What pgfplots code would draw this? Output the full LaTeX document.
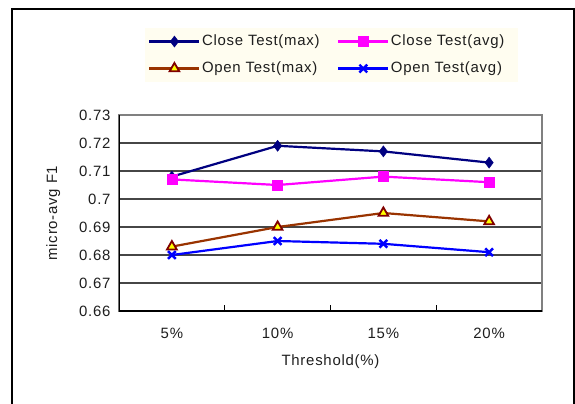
\documentclass[border=0pt]{standalone}
\usepackage{fontspec}
\setmainfont{Liberation Sans}[LetterSpace=5]
\usepackage{pgfplots}
\pgfplotsset{compat=1.18}
\definecolor{cnavy}{RGB}{0,0,128}
\definecolor{cmag}{RGB}{255,0,255}
\definecolor{cbrown}{RGB}{153,51,0}
\definecolor{cdred}{RGB}{128,0,0}
\definecolor{cyel}{RGB}{255,255,0}
\definecolor{cblue}{RGB}{0,0,255}
\definecolor{cream}{RGB}{255,253,240}
\definecolor{cgray}{RGB}{128,128,128}
\definecolor{cgrid}{RGB}{70,70,70}
\definecolor{ctext}{RGB}{30,30,30}
\begin{document}
\begin{tikzpicture}
\useasboundingbox (-119bp,-93bp) rectangle (456bp,311bp);
\fill[cream] (26bp,229bp) rectangle (399bp,283bp);
\draw[line width=2bp] (-107bp,-94bp) -- (-107bp,302bp) -- (455bp,302bp) -- (455bp,-94bp);
\begin{axis}[
  scale only axis,
  width=423bp, height=196bp,
  xmin=-0.5, xmax=3.5,
  ymin=0.66, ymax=0.73,
  xtick={0,1,2,3},
  xticklabels={5\%,10\%,15\%,20\%},
  ytick={0.66,0.67,0.68,0.69,0.70,0.71,0.72,0.73},
  yticklabels={0.66,0.67,0.68,0.69,0.7,0.71,0.72,0.73},
  major tick length=0pt,
  extra x ticks={0.5,1.5,2.5},
  extra x tick labels={},
  extra x tick style={major tick length=6bp, tick style={black, line width=1.2bp}, xtick pos=lower, grid=none},
  xtick pos=lower, ytick pos=left,
  ymajorgrids,
  grid style={cgrid, line width=1.2bp},
  axis line style={cgray, line width=2bp},
  tick label style={font=\fontsize{15}{17}\selectfont, text=ctext},
  label style={font=\fontsize{15}{17}\selectfont, text=ctext},
  /pgf/number format/assume math mode=true,
  xticklabel style={yshift=-14bp},
  yticklabel style={xshift=-5bp},
  xlabel={Threshold(\%)},
  ylabel={micro-avg F1},
  xlabel style={yshift=-9bp},
  ylabel style={yshift=12bp},
  legend columns=2,
  legend cell align=left,
  legend style={at={(0.492,1.306)}, anchor=center, draw=none, fill=none,
    font=\fontsize{15}{17}\selectfont, text=ctext,
    nodes={inner sep=1.5bp, text height=11bp, text depth=3bp},
    /tikz/every even column/.style={column sep=16bp},
    row sep=10bp},
  legend image code/.code={\draw[mark repeat=2,mark phase=2,#1] plot coordinates {(0bp,0bp) (25bp,0bp) (50bp,0bp)};},
]
\addplot[cnavy, line width=2.2bp, mark=diamond*, mark size=5.5bp, mark options={solid, fill=cnavy, draw=cnavy, line width=0.5bp}]
  coordinates {(0,0.708) (1,0.719) (2,0.717) (3,0.713)};
\addlegendentry{Close Test(max)}
\addplot[cmag, line width=2.2bp, mark=square*, mark size=5bp, mark options={solid, fill=cmag, draw=cmag, line width=0.5bp}]
  coordinates {(0,0.707) (1,0.705) (2,0.708) (3,0.706)};
\addlegendentry{Close Test(avg)}
\addplot[cbrown, line width=2.2bp, mark=triangle*, mark size=5.6bp, mark options={solid, fill=cyel, draw=cdred, line width=1.8bp}]
  coordinates {(0,0.683) (1,0.690) (2,0.695) (3,0.692)};
\addlegendentry{Open Test(max)}
\addplot[cblue, line width=2.2bp, mark=x, mark size=5.5bp, mark options={solid, draw=cblue, line width=2.4bp}]
  coordinates {(0,0.680) (1,0.685) (2,0.684) (3,0.681)};
\addlegendentry{Open Test(avg)}
\draw[black, line width=2bp] (rel axis cs:0,1) -- (rel axis cs:0,0) -- (rel axis cs:1,0);
\end{axis}
\end{tikzpicture}
\end{document}
